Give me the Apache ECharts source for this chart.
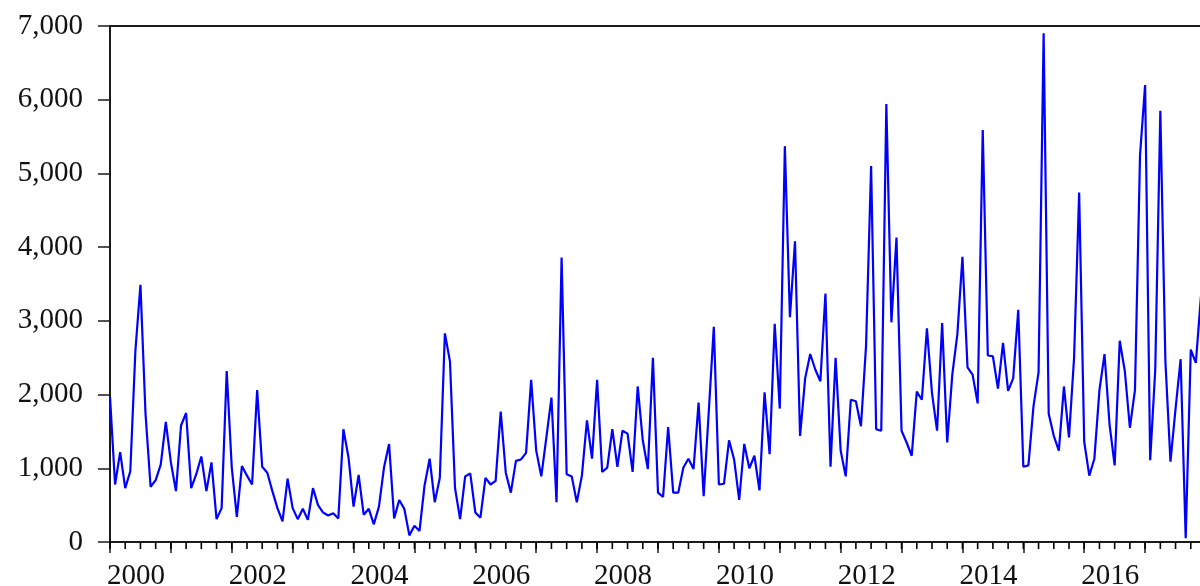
<!DOCTYPE html>
<html><head><meta charset="utf-8">
<script src="https://cdn.jsdelivr.net/npm/echarts@6/dist/echarts.min.js"></script>
<style>html,body{margin:0;padding:0;background:#fff}#c{width:1200px;height:586px}</style>
</head><body><div id="c"></div>
<script>
// Monthly values, Jan..Dec of each year
const y2000 = [1970,780,1220,730,960,2590,3490,1740,750,840,1050,1630];
const y2001 = [1080,690,1580,1750,730,920,1160,690,1080,310,460,2320];
const y2002 = [1010,340,1030,900,780,2060,1020,940,690,460,280,860];
const y2003 = [460,310,450,300,730,500,400,360,390,320,1530,1150];
const y2004 = [480,910,370,450,240,480,1010,1330,320,570,450,90];
const y2005 = [220,150,770,1130,540,870,2830,2450,730,310,890,930];
const y2006 = [400,330,870,780,830,1770,940,670,1100,1120,1210,2200];
const y2007 = [1240,890,1420,1960,540,3860,920,890,540,900,1650,1130];
const y2008 = [2200,950,1010,1530,1020,1510,1470,950,2110,1380,990,2500];
const y2009 = [670,610,1560,670,670,1010,1130,990,1890,620,1760,2920];
const y2010 = [780,790,1380,1120,570,1330,1000,1170,700,2030,1190,2960];
const y2011 = [1810,5370,3050,4080,1440,2220,2550,2340,2180,3370,1020,2500];
const y2012 = [1240,890,1930,1910,1570,2660,5100,1530,1510,5940,2980,4130];
const y2013 = [1510,1350,1170,2040,1930,2900,2020,1510,2970,1350,2270,2820];
const y2014 = [3870,2370,2270,1880,5590,2530,2520,2080,2700,2050,2220,3150];
const y2015 = [1020,1040,1840,2300,6900,1740,1440,1240,2110,1420,2500,4740];
const y2016 = [1360,900,1130,2060,2550,1590,1040,2730,2320,1550,2060,5250];
const y2017 = [6200,1110,2340,5850,2450,1090,1810,2480,50,2610,2430,3330];

const xTickLabels = ['2000','2002','2004','2006','2008','2010','2012','2014','2016'];
const yTickLabels = ['0','1,000','2,000','3,000','4,000','5,000','6,000','7,000'];

const years = [y2000,y2001,y2002,y2003,y2004,y2005,y2006,y2007,y2008,y2009,
               y2010,y2011,y2012,y2013,y2014,y2015,y2016,y2017];
const values = [].concat(...years);
const data = values.map((v, i) => [i, v]);
// quarter tick positions (month index of each quarter start)
const quarterTicks = [];
for (let m = 0; m <= values.length; m += 3) quarterTicks.push([m, 0]);

const ink = '#1a1a1a';
const font = "'Liberation Serif', 'Times New Roman', serif";

const chart = echarts.init(document.getElementById('c'), null, {renderer: 'canvas'});
chart.setOption({
  animation: false,
  grid: {left: 110, right: -6, top: 26, bottom: 44, show: true,
         outerBoundsMode: 'none', containLabel: false,
         borderColor: ink, borderWidth: 2, backgroundColor: 'transparent'},
  xAxis: {
    type: 'value', min: 0, max: 216, interval: 12, position: 'bottom',
    splitLine: {show: false},
    axisLine: {show: true, onZero: false, lineStyle: {color: ink, width: 2}},
    axisTick: {show: true, inside: false, length: 11, lineStyle: {color: ink, width: 1.5}},
    axisLabel: {
      formatter: v => (v % 24 === 0 && v / 24 < xTickLabels.length) ? xTickLabels[v / 24] : '',
      align: 'left', verticalAlign: 'middle', margin: 34,
      fontFamily: font, fontSize: 29, color: '#111', padding: [10, 0, 0, -3],
      hideOverlap: false
    }
  },
  yAxis: {
    type: 'value', min: 0, max: 7000, interval: 1000,
    splitLine: {show: false},
    axisLine: {show: true, onZero: false, lineStyle: {color: ink, width: 2}},
    axisTick: {show: true, inside: false, length: 12, lineStyle: {color: ink, width: 1.5}},
    axisLabel: {
      formatter: v => yTickLabels[Math.round(v / 1000)],
      margin: 27, fontFamily: font, fontSize: 29, color: '#111',
      padding: [10, 0, 0, 0], hideOverlap: false
    }
  },
  series: [{
    type: 'line', data: data, symbol: 'none', showSymbol: false,
    lineStyle: {color: '#0000ff', width: 2.2}, clip: true
  }, {
    type: 'custom', data: quarterTicks, clip: false, silent: true, z: 10,
    encode: {x: 0, y: 1},
    renderItem: (params, api) => {
      const p = api.coord([api.value(0), 0]);
      return {type: 'line', z2: 10,
              shape: {x1: p[0], y1: p[1], x2: p[0], y2: p[1] + 7},
              style: {stroke: '#000', lineWidth: 1.6}};
    }
  }]
});
</script>
</body></html>
